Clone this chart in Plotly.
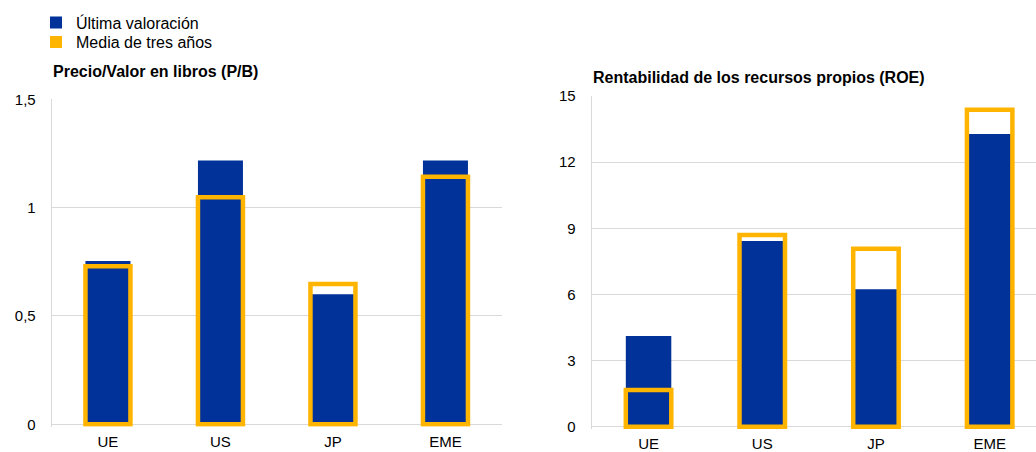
import plotly.graph_objects as go

categories = ["UE", "US", "JP", "EME"]
pb_latest = [0.754, 1.218, 0.60, 1.218]
pb_avg3y = [0.73, 1.048, 0.648, 1.142]
roe_latest = [4.11, 8.42, 6.23, 13.28]
roe_avg3y = [1.67, 8.69, 8.07, 14.38]

pb_tickvals = [0, 0.5, 1, 1.5]
pb_ticktext = ["0", "0,5", "1", "1,5"]
roe_tickvals = [0, 3, 6, 9, 12, 15]
roe_ticktext = ["0", "3", "6", "9", "12", "15"]

series_names = ["Última valoración", "Media de tres años"]
titles = ["Precio/Valor en libros (P/B)", "Rentabilidad de los recursos propios (ROE)"]

BLUE = "#003299"
ORANGE = "#FFB400"
GRID = "#d9d9d9"
FONT = "Arial, Liberation Sans, sans-serif"
W, H = 1036, 452

fig = go.Figure()

def add_panel(latest, avg, xa, ya):
    fig.add_trace(go.Bar(x=categories, y=latest, width=0.4, marker=dict(color=BLUE, line=dict(width=0)),
                         xaxis=xa, yaxis=ya, showlegend=False, hoverinfo="skip"))
    fig.add_trace(go.Bar(x=categories, y=avg, width=0.4,
                         marker=dict(color="rgba(0,0,0,0)", line=dict(width=4.5, color=ORANGE)),
                         xaxis=xa, yaxis=ya, showlegend=False, hoverinfo="skip"))

add_panel(pb_latest, pb_avg3y, "x", "y")
add_panel(roe_latest, roe_avg3y, "x2", "y2")

for name, col, lg in zip(series_names, [BLUE, ORANGE], ["legend", "legend2"]):
    fig.add_trace(go.Scatter(x=[None], y=[None], mode="markers", name=name, legend=lg,
                             marker=dict(symbol="square", size=13, color=col)))

def px_x(p):
    return p / W
def px_y(p):
    return 1 - p / H

TICKFONT = dict(size=15, color="#000", family=FONT)
axis_common = dict(showgrid=False, zeroline=False, showline=False, ticks="",
                   tickfont=TICKFONT, automargin=False, ticklabelstandoff=4)
yaxis_common = dict(showgrid=True, gridcolor=GRID, gridwidth=1, zeroline=False, showline=True,
                    linecolor=GRID, linewidth=1, ticks="", automargin=False,
                    tickfont=TICKFONT, ticklabelstandoff=12)

legend_common = dict(x=px_x(36), xanchor="left", yanchor="top", bgcolor="rgba(0,0,0,0)",
                     font=dict(size=16, family=FONT, color="#000"), itemsizing="constant")

fig.update_layout(
    width=W, height=H, margin=dict(l=0, r=0, t=0, b=0),
    paper_bgcolor="white", plot_bgcolor="white",
    barmode="overlay",
    font=dict(family=FONT, size=16, color="#000"),
    xaxis=dict(domain=[px_x(51.7), px_x(501.7)], anchor="y", range=[-0.5, 3.5], **axis_common),
    yaxis=dict(domain=[px_y(426.8), px_y(99.3)], anchor="x", range=[-0.0115, 1.5],
               tickvals=pb_tickvals, ticktext=pb_ticktext, **yaxis_common),
    xaxis2=dict(domain=[px_x(591.7), 1.0], anchor="y2", range=[-0.5, -0.5 + (W - 591.7) / 113.7], **axis_common),
    yaxis2=dict(domain=[px_y(429.2), px_y(96)], anchor="x2", range=[-0.113, 15],
                tickvals=roe_tickvals, ticktext=roe_ticktext, **yaxis_common),
    legend=dict(y=px_y(5.5), **legend_common),
    legend2=dict(y=px_y(25.2), **legend_common),
    annotations=[
        dict(text="<b>" + titles[0] + "</b>", x=px_x(50.5), y=px_y(71.5), xref="paper", yref="paper",
             xanchor="left", yanchor="middle", showarrow=False, font=dict(size=16, family=FONT)),
        dict(text="<b>" + titles[1] + "</b>", x=px_x(590.5), y=px_y(77.5), xref="paper", yref="paper",
             xanchor="left", yanchor="middle", showarrow=False, font=dict(size=16, family=FONT)),
    ],
)

fig.write_html("out.html")
